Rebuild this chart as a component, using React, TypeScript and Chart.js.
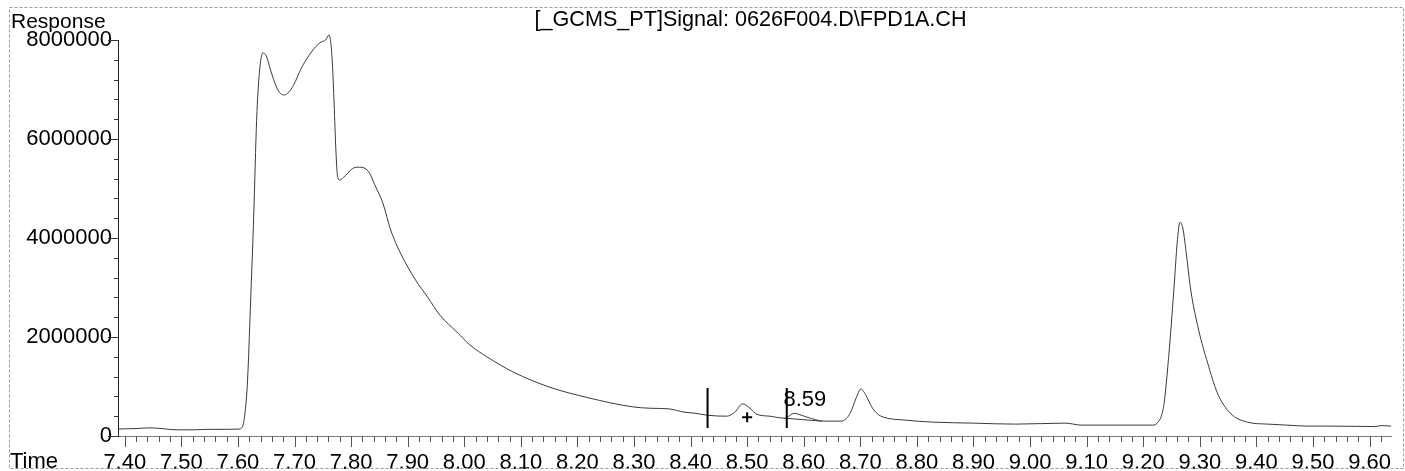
import React, { useEffect, useRef } from 'react';
import { Chart, registerables } from 'chart.js';

Chart.register(...registerables);

// ---- data ----
const times = [
  7.388, 7.4, 7.42, 7.444, 7.47, 7.491, 7.52, 7.549, 7.58, 7.602, 7.608, 7.612, 7.617, 7.622, 7.628,
  7.633, 7.638, 7.644, 7.65, 7.658, 7.668, 7.675, 7.682, 7.69, 7.698, 7.712, 7.725, 7.737, 7.747,
  7.755, 7.761, 7.764, 7.767, 7.77, 7.773, 7.776, 7.78, 7.787, 7.794, 7.802, 7.812, 7.824, 7.833,
  7.842, 7.856, 7.87, 7.887, 7.914, 7.935, 7.957, 7.987, 8.01, 8.04, 8.087, 8.15, 8.22, 8.297, 8.33,
  8.36, 8.39, 8.408, 8.429, 8.464, 8.478, 8.492, 8.505, 8.517, 8.54, 8.566, 8.575, 8.583, 8.593,
  8.606, 8.636, 8.665, 8.675, 8.683, 8.692, 8.701, 8.71, 8.72, 8.73, 8.741, 8.78, 8.829, 8.9, 8.974,
  9.062, 9.091, 9.15, 9.219, 9.226, 9.232, 9.237, 9.246, 9.255, 9.26, 9.265, 9.27, 9.277, 9.284,
  9.298, 9.314, 9.331, 9.354, 9.384, 9.42, 9.454, 9.489, 9.53, 9.577, 9.61, 9.62, 9.638,
];
const responses = [
  140000, 145000, 150000, 165000, 145000, 125000, 125000, 135000, 135000, 140000, 190000, 420000,
  1130000, 2600000, 4500000, 6380000, 7350000, 7740000, 7680000, 7380000, 7050000, 6920000, 6890000,
  6950000, 7080000, 7430000, 7680000, 7860000, 7960000, 8000000, 8100000, 7950000, 7500000, 6700000,
  5800000, 5250000, 5170000, 5230000, 5310000, 5400000, 5430000, 5410000, 5300000, 5070000, 4710000,
  4160000, 3700000, 3150000, 2810000, 2440000, 2100000, 1840000, 1600000, 1290000, 990000, 770000,
  590000, 560000, 550000, 480000, 460000, 420000, 400000, 480000, 650000, 560000, 440000, 400000,
  360000, 410000, 460000, 430000, 380000, 300000, 300000, 350000, 480000, 750000, 950000, 820000,
  590000, 450000, 380000, 320000, 280000, 260000, 240000, 260000, 220000, 220000, 220000, 280000,
  400000, 670000, 1740000, 3090000, 3900000, 4320000, 4200000, 3600000, 2950000, 2140000, 1470000,
  870000, 460000, 280000, 240000, 220000, 200000, 200000, 195000, 190000, 210000, 200000,
];
const baselineTimes = [8.566, 8.632];
const baselineResponses = [360000, 300000];

const xTickValues = [
  7.4, 7.5, 7.6, 7.7, 7.8, 7.9, 8.0, 8.1, 8.2, 8.3, 8.4, 8.5, 8.6, 8.7, 8.8, 8.9, 9.0, 9.1, 9.2,
  9.3, 9.4, 9.5, 9.6,
];
const yTickValues = [0, 2000000, 4000000, 6000000, 8000000];

const markerTimes = [8.43, 8.57];
const markerLow = 160000;
const markerHigh = 970000;
const plusTime = 8.5;
const plusResponse = 380000;
const peakLabel = '8.59';
const peakLabelTime = 8.602;
const peakLabelResponse = 720000;

const titleText = '[_GCMS_PT]Signal: 0626F004.D\\FPD1A.CH';
const yAxisTitle = 'Response';
const xAxisTitle = 'Time';

const FONT = "'Liberation Sans', Arial, sans-serif";
const FSIZE = 22;

const decorPlugin = {
  id: 'decor',
  afterDraw(chart: any) {
    const ctx = chart.ctx as CanvasRenderingContext2D;
    const xs = chart.scales.x;
    const ys = chart.scales.y;
    const ca = chart.chartArea;
    ctx.save();

    // outer frame
    ctx.strokeStyle = '#9a9a9a';
    ctx.lineWidth = 1;
    ctx.setLineDash([3, 2]);
    ctx.strokeRect(9.5, 7.5, 1394, 461);
    ctx.setLineDash([]);

    // x tick marks
    ctx.strokeStyle = '#555';
    ctx.lineWidth = 1;
    for (let i = 0; i <= 111; i++) {
      const v = 7.4 + i * 0.02;
      if (v > xs.max) break;
      const px = Math.round(xs.getPixelForValue(v)) + 0.5;
      const major = i % 5 === 0;
      ctx.beginPath();
      ctx.moveTo(px, ca.bottom);
      ctx.lineTo(px, ca.bottom + (major ? 11 : 6));
      ctx.stroke();
    }
    // y tick marks
    ctx.strokeStyle = '#333';
    for (let i = 0; i <= 20; i++) {
      const v = i * 400000;
      const py = Math.round(ys.getPixelForValue(v)) + 0.5;
      const major = i % 5 === 0;
      ctx.beginPath();
      ctx.moveTo(ca.left, py);
      ctx.lineTo(ca.left - (major ? 10 : 4), py);
      ctx.stroke();
    }

    // texts
    ctx.fillStyle = '#000';
    ctx.textBaseline = 'middle';
    ctx.textAlign = 'center';
    ctx.font = `21.6px ${FONT}`;
    ctx.fillText(titleText, (ca.left + ca.right) / 2 - 4, 20);
    ctx.font = `21px ${FONT}`;
    ctx.textAlign = 'left';
    ctx.fillText(yAxisTitle, 11, 22);
    ctx.font = `${FSIZE}px ${FONT}`;
    ctx.fillText(xAxisTitle, 10, 462);

    // integration markers
    ctx.strokeStyle = '#000';
    ctx.lineWidth = 2;
    for (const t of markerTimes) {
      const px = xs.getPixelForValue(t);
      ctx.beginPath();
      ctx.moveTo(px, ys.getPixelForValue(markerLow));
      ctx.lineTo(px, ys.getPixelForValue(markerHigh));
      ctx.stroke();
    }
    const cx = xs.getPixelForValue(plusTime);
    const cy = ys.getPixelForValue(plusResponse);
    ctx.beginPath();
    ctx.moveTo(cx - 5, cy);
    ctx.lineTo(cx + 5, cy);
    ctx.moveTo(cx, cy - 5);
    ctx.lineTo(cx, cy + 5);
    ctx.stroke();

    ctx.textAlign = 'center';
    ctx.fillText(peakLabel, xs.getPixelForValue(peakLabelTime), ys.getPixelForValue(peakLabelResponse));
    ctx.restore();
  },
};

export default function App() {
  const ref = useRef<HTMLCanvasElement>(null);
  useEffect(() => {
    document.body.style.margin = '0';
    const chart = new Chart(ref.current as HTMLCanvasElement, {
      type: 'line',
      data: {
        datasets: [
          {
            data: times.map((t, i) => ({ x: t, y: responses[i] })),
            borderColor: '#3a3a3a',
            borderWidth: 1,
            pointRadius: 0,
            cubicInterpolationMode: 'monotone',
            fill: false,
            clip: false,
          },
          {
            data: baselineTimes.map((t, i) => ({ x: t, y: baselineResponses[i] })),
            borderColor: '#3a3a3a',
            borderWidth: 1,
            pointRadius: 0,
            fill: false,
          },
        ],
      },
      options: {
        animation: false,
        responsive: false,
        events: [],
        layout: { padding: { top: 40, right: 3, left: 0, bottom: 0 } },
        plugins: {
          legend: { display: false },
          tooltip: { enabled: false },
          title: { display: false },
        },
        scales: {
          x: {
            type: 'linear',
            min: 7.388,
            max: 9.638,
            afterBuildTicks: (s: any) => {
              s.ticks = xTickValues.map((v) => ({ value: v }));
            },
            afterFit: (s: any) => {
              s.height = 35;
            },
            ticks: {
              callback: (v: any) => Number(v).toFixed(2),
              font: { family: FONT, size: FSIZE },
              color: '#000',
              padding: 14,
              maxRotation: 0,
              autoSkip: false,
            },
            grid: { display: false, drawTicks: false },
            border: { display: true, color: '#777', width: 1 },
          },
          y: {
            type: 'linear',
            min: 0,
            max: 8000000,
            afterBuildTicks: (s: any) => {
              s.ticks = yTickValues.map((v) => ({ value: v }));
            },
            afterFit: (s: any) => {
              s.width = 118;
            },
            ticks: {
              callback: (v: any) => String(v),
              font: { family: FONT, size: FSIZE },
              color: '#000',
              padding: 6,
            },
            grid: { display: false, drawTicks: false },
            border: { display: true, color: '#222', width: 1 },
          },
        },
      },
      plugins: [decorPlugin],
    } as any);
    return () => chart.destroy();
  }, []);
  return (
    <canvas
      ref={ref}
      width={1405}
      height={471}
      style={{ display: 'block', width: 1405, height: 471 }}
    />
  );
}
